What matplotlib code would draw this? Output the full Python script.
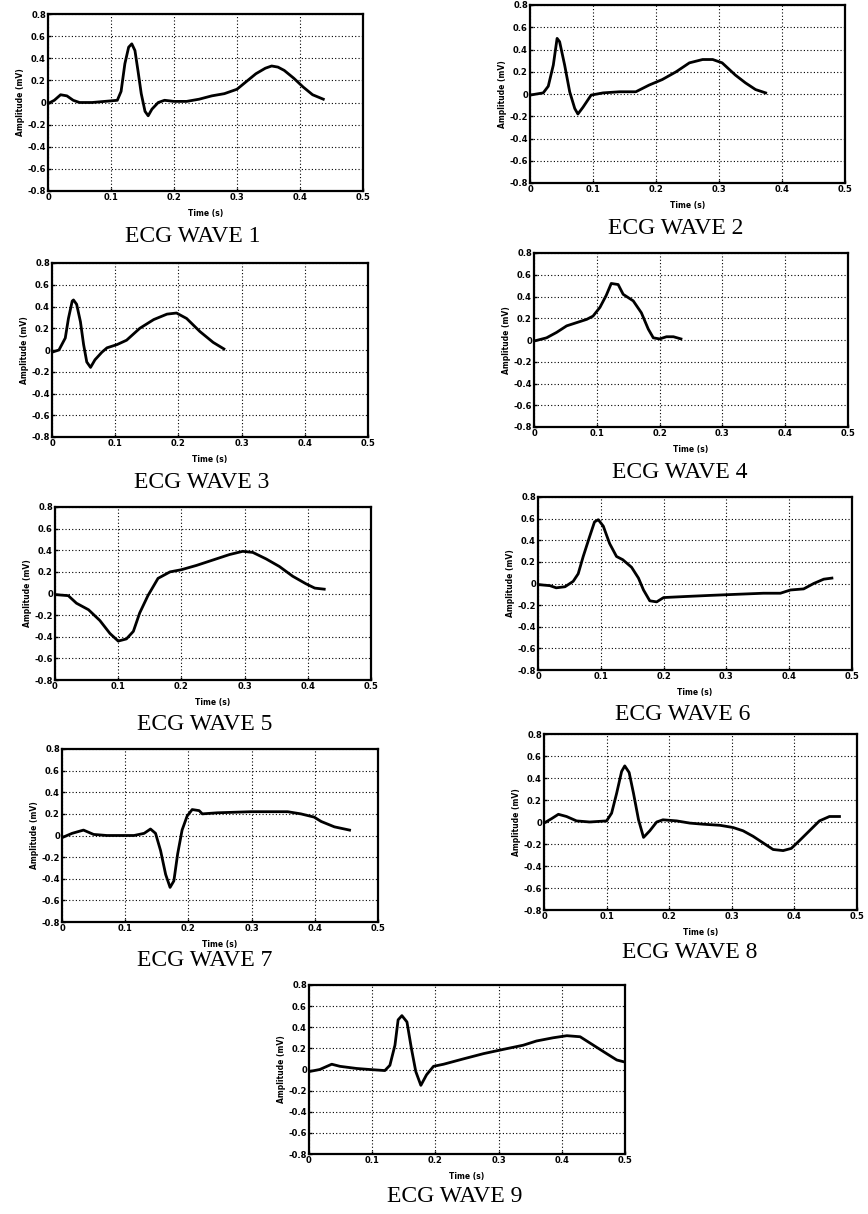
import matplotlib
matplotlib.use("Agg")
import matplotlib.pyplot as plt

# ECG waves: time (s), amplitude (mV)
wave1_t = [0.000, 0.010, 0.020, 0.030, 0.040, 0.050, 0.070, 0.090, 0.110, 0.116, 0.122, 0.128,
           0.133, 0.138, 0.143, 0.148, 0.154, 0.159, 0.165, 0.175, 0.185, 0.200, 0.220, 0.240,
           0.260, 0.280, 0.300, 0.315, 0.330, 0.345, 0.355, 0.365, 0.375, 0.390, 0.405, 0.420, 0.437]
wave1_v = [-0.01, 0.02, 0.07, 0.06, 0.02, 0.00, 0.00, 0.01, 0.02, 0.10, 0.35, 0.50,
           0.53, 0.47, 0.28, 0.08, -0.08, -0.12, -0.06, 0.00, 0.02, 0.01, 0.01, 0.03,
           0.06, 0.08, 0.12, 0.19, 0.26, 0.31, 0.33, 0.32, 0.29, 0.22, 0.14, 0.07, 0.03]

wave2_t = [0.000, 0.021, 0.029, 0.037, 0.043, 0.047, 0.055, 0.063, 0.071, 0.076, 0.084, 0.097,
           0.116, 0.142, 0.168, 0.189, 0.210, 0.232, 0.253, 0.274, 0.290, 0.305, 0.326, 0.342,
           0.358, 0.374]
wave2_v = [-0.01, 0.01, 0.07, 0.26, 0.50, 0.47, 0.26, 0.02, -0.13, -0.18, -0.12, -0.01,
           0.01, 0.02, 0.02, 0.08, 0.13, 0.20, 0.28, 0.31, 0.31, 0.28, 0.17, 0.10,
           0.04, 0.01]

wave3_t = [0.000, 0.011, 0.021, 0.026, 0.032, 0.034, 0.039, 0.045, 0.050, 0.055, 0.061, 0.068,
           0.079, 0.087, 0.103, 0.118, 0.139, 0.161, 0.182, 0.197, 0.213, 0.234, 0.255, 0.272]
wave3_v = [-0.02, 0.00, 0.11, 0.29, 0.45, 0.46, 0.42, 0.26, 0.05, -0.11, -0.16, -0.09,
           -0.02, 0.02, 0.05, 0.09, 0.20, 0.28, 0.33, 0.34, 0.29, 0.17, 0.07, 0.01]

wave4_t = [0.000, 0.020, 0.036, 0.052, 0.068, 0.084, 0.094, 0.105, 0.115, 0.123, 0.134, 0.142,
           0.158, 0.171, 0.182, 0.190, 0.200, 0.211, 0.222, 0.234]
wave4_v = [-0.01, 0.02, 0.07, 0.13, 0.16, 0.19, 0.22, 0.30, 0.41, 0.52, 0.51, 0.42,
           0.36, 0.25, 0.10, 0.02, 0.01, 0.03, 0.03, 0.01]

wave5_t = [0.000, 0.021, 0.034, 0.053, 0.071, 0.087, 0.100, 0.113, 0.124, 0.134, 0.147, 0.163,
           0.182, 0.200, 0.224, 0.250, 0.276, 0.297, 0.313, 0.334, 0.355, 0.376, 0.397, 0.411, 0.426]
wave5_v = [-0.01, -0.02, -0.09, -0.15, -0.25, -0.37, -0.44, -0.42, -0.35, -0.18, -0.02, 0.14,
           0.20, 0.22, 0.26, 0.31, 0.36, 0.39, 0.38, 0.32, 0.25, 0.16, 0.09, 0.05, 0.04]

wave6_t = [0.000, 0.019, 0.029, 0.043, 0.056, 0.064, 0.072, 0.082, 0.090, 0.096, 0.104, 0.114,
           0.125, 0.135, 0.149, 0.160, 0.168, 0.178, 0.189, 0.200, 0.236, 0.274, 0.316, 0.359,
           0.386, 0.402, 0.423, 0.439, 0.455, 0.468]
wave6_v = [-0.01, -0.02, -0.04, -0.03, 0.02, 0.09, 0.25, 0.43, 0.57, 0.59, 0.53, 0.37,
           0.25, 0.22, 0.15, 0.05, -0.06, -0.16, -0.17, -0.13, -0.12, -0.11, -0.10, -0.09,
           -0.09, -0.06, -0.05, 0.00, 0.04, 0.05]

wave7_t = [0.000, 0.016, 0.034, 0.050, 0.071, 0.114, 0.130, 0.140, 0.148, 0.156, 0.164, 0.171,
           0.177, 0.183, 0.190, 0.198, 0.206, 0.217, 0.222, 0.246, 0.299, 0.357, 0.378, 0.399,
           0.410, 0.431, 0.455]
wave7_v = [-0.02, 0.02, 0.05, 0.01, 0.00, 0.00, 0.02, 0.06, 0.02, -0.14, -0.36, -0.48,
           -0.42, -0.17, 0.05, 0.18, 0.24, 0.23, 0.20, 0.21, 0.22, 0.22, 0.20, 0.17,
           0.13, 0.08, 0.05]

wave8_t = [0.000, 0.012, 0.023, 0.036, 0.052, 0.073, 0.100, 0.108, 0.116, 0.124, 0.129, 0.136,
           0.143, 0.151, 0.159, 0.169, 0.180, 0.190, 0.212, 0.233, 0.254, 0.281, 0.302, 0.318,
           0.334, 0.350, 0.366, 0.382, 0.395, 0.408, 0.424, 0.440, 0.456, 0.472]
wave8_v = [-0.01, 0.03, 0.07, 0.05, 0.01, 0.00, 0.01, 0.08, 0.26, 0.46, 0.51, 0.45,
           0.26, 0.02, -0.14, -0.08, 0.00, 0.02, 0.01, -0.01, -0.02, -0.03, -0.05, -0.08,
           -0.13, -0.19, -0.25, -0.26, -0.24, -0.17, -0.08, 0.01, 0.05, 0.05]

wave9_t = [0.000, 0.017, 0.036, 0.049, 0.075, 0.096, 0.120, 0.128, 0.136, 0.141, 0.147, 0.155,
           0.162, 0.169, 0.177, 0.186, 0.197, 0.213, 0.244, 0.276, 0.307, 0.339, 0.360, 0.386,
           0.408, 0.429, 0.450, 0.471, 0.487, 0.500]
wave9_v = [-0.02, 0.00, 0.05, 0.03, 0.01, 0.00, -0.01, 0.04, 0.23, 0.47, 0.51, 0.45,
           0.20, -0.02, -0.15, -0.05, 0.03, 0.05, 0.10, 0.15, 0.19, 0.23, 0.27, 0.30,
           0.32, 0.31, 0.23, 0.15, 0.09, 0.07]

waves = [(wave1_t, wave1_v), (wave2_t, wave2_v), (wave3_t, wave3_v),
         (wave4_t, wave4_v), (wave5_t, wave5_v), (wave6_t, wave6_v),
         (wave7_t, wave7_v), (wave8_t, wave8_v), (wave9_t, wave9_v)]
titles = ["ECG WAVE %d" % (i + 1) for i in range(9)]

x_ticks = [0, 0.1, 0.2, 0.3, 0.4, 0.5]
y_ticks = [-0.8, -0.6, -0.4, -0.2, 0, 0.2, 0.4, 0.6, 0.8]

W, H = 868, 1214
# axes boxes in pixels (left, top, right, bottom), scanned page is slightly skewed
boxes = [(48, 14, 363, 191), (530, 5, 845, 183),
         (52, 263, 368, 437), (534, 253, 848, 427),
         (55, 507, 371, 680), (538, 497, 852, 670),
         (62, 749, 378, 922), (544, 734, 857, 910),
         (309, 985, 625, 1154)]
# caption centres in pixels
captions = [(193, 236), (676, 229), (202, 483), (680, 473), (205, 725),
            (683, 715), (205, 960), (690, 953), (455, 1197)]

fig = plt.figure(figsize=(W / 100, H / 100), dpi=100)

for i, ((t, v), (l, tp, r, b)) in enumerate(zip(waves, boxes)):
    ax = fig.add_axes([l / W, 1 - b / H, (r - l) / W, (b - tp) / H])
    ax.plot(t, v, color="black", lw=2)
    ax.set_xlim(0, 0.5)
    ax.set_ylim(-0.8, 0.8)
    ax.set_xticks(x_ticks)
    ax.set_yticks(y_ticks)
    ax.set_xticklabels(["%g" % x for x in x_ticks])
    ax.set_yticklabels(["%g" % round(y, 1) for y in y_ticks])
    ax.grid(True, color="black", linestyle=(0, (1, 2)), lw=0.8)
    ax.tick_params(direction="in", length=2, width=1, labelsize=6, pad=1.5)
    for lab in ax.get_xticklabels() + ax.get_yticklabels():
        lab.set_fontweight("bold")
    for s in ax.spines.values():
        s.set_linewidth(1.6)
    ax.set_xlabel("Time (s)", fontsize=5.5, fontweight="bold", labelpad=5)
    ax.set_ylabel("Amplitude (mV)", fontsize=5.5, fontweight="bold", labelpad=2)

for txt, (cx, cy) in zip(titles, captions):
    fig.text(cx / W, 1 - cy / H, txt, ha="center", va="center",
             fontsize=17, family="Liberation Serif")

fig.savefig("out.png", dpi=100)
